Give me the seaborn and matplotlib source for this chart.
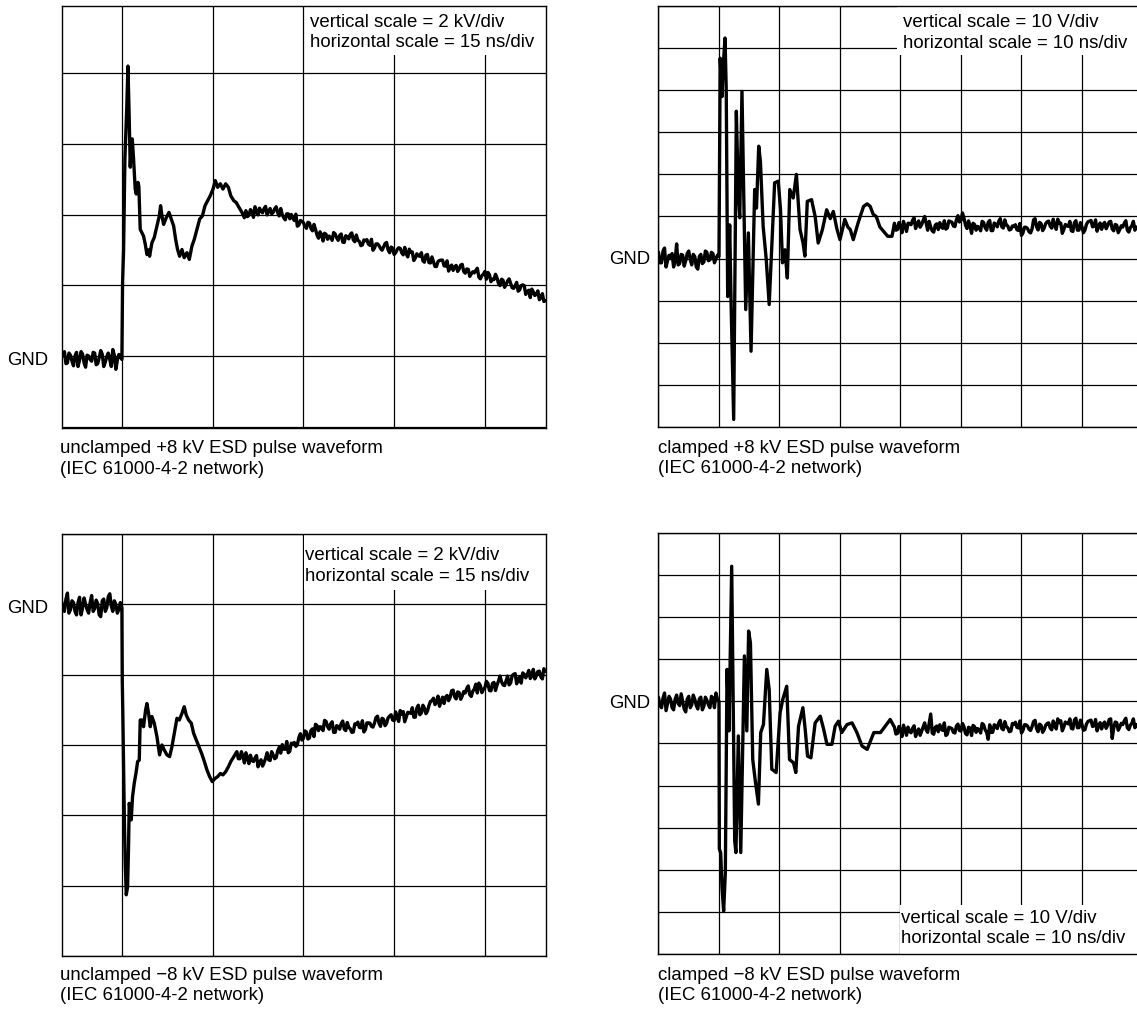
import numpy as np
import matplotlib
matplotlib.use("Agg")
import matplotlib.pyplot as plt
from matplotlib.ticker import MultipleLocator
from matplotlib.patches import Rectangle
import seaborn as sns

# ---------------- data (t in ns, v in kV or V) ----------------
# Baseline/tail samples are on a 0.5 ns grid, "mid" samples on the
# interleaved grid (+0.25 ns); the pulse is given as explicit (t, v) pairs.
STEP = 0.5
HALF = 0.25

# A: unclamped +8 kV (15 ns/div, 2 kV/div)
a_pre_start = -10.0
a_pre_v = [-0.05, 0.12, -0.2, 0.02, -0.28, 0.1, -0.12, 0.05, -0.32, 0.0,
           -0.15, 0.08, -0.22, 0.15, -0.3, -0.02, -0.1, 0.18, -0.38, 0.04]
a_pre_mid_v = [0.05, -0.22, 0.08, -0.15, 0.0, -0.3, 0.12, -0.2, 0.02, -0.1,
               0.1, -0.25, -0.05, 0.05, -0.18, 0.08, -0.3, 0.02, -0.12, -0.02]
a_pulse_t = [0.0, 0.11, 0.28, 0.5, 0.8, 1.0, 1.2, 1.38, 1.54, 1.71, 1.93, 2.2, 2.37, 2.65, 2.8,
             3.03, 3.3, 3.58, 3.86, 4.14, 4.41, 4.58, 4.96, 5.35, 5.79, 6.18, 6.4, 6.62, 6.9,
             7.33, 7.78, 8.16, 8.55, 8.88, 9.2, 9.54, 9.93, 10.3, 10.75, 11.14, 11.58, 11.97,
             12.4, 12.85, 13.3, 13.74, 14.17, 14.6, 15.06, 15.44, 15.83, 16.27, 16.7, 17.15,
             17.6, 18.0, 18.5, 18.9, 19.36, 19.85, 20.24]
a_pulse_v = [-0.1, 2.07, 3.0, 5.6, 7.0, 8.2, 6.8, 5.34, 5.95, 6.14, 5.57, 4.72, 4.58, 4.91, 4.81,
             3.58, 3.49, 3.39, 3.16, 2.87, 3.0, 2.82, 3.2, 3.35, 3.68, 3.96, 4.25, 3.96, 3.72,
             3.91, 4.06, 3.87, 3.68, 3.3, 3.01, 2.82, 3.01, 2.78, 2.92, 2.73, 3.11, 3.3,
             3.58, 3.87, 3.96, 4.25, 4.39, 4.53, 4.72, 4.96, 4.77, 4.87, 4.72, 4.87,
             4.77, 4.53, 4.39, 4.34, 4.2, 4.06, 3.91]
a_tail_start = 20.5
a_tail_v = [4.11, 3.98, 4.09, 4.22, 3.99, 4.09, 4.17, 3.99, 4.17, 4.06,
            4.22, 3.96, 4.0, 3.85, 4.02, 4.0, 3.83, 3.67, 3.83, 3.77,
            3.61, 3.76, 3.54, 3.58, 3.33, 3.43, 3.47, 3.3, 3.35, 3.49,
            3.34, 3.41, 3.22, 3.4, 3.31, 3.48, 3.23, 3.27, 3.12, 3.28,
            3.29, 3.13, 2.99, 3.17, 3.12, 2.99, 3.18, 3.0, 3.08, 2.87,
            3.01, 3.04, 2.86, 2.89, 3.02, 2.94, 2.77, 2.83, 2.92, 2.65,
            2.87, 2.63, 2.67, 2.53, 2.7, 2.71, 2.54, 2.4, 2.57, 2.52,
            2.39, 2.57, 2.39, 2.46, 2.25, 2.38, 2.42, 2.23, 2.27, 2.39,
            2.36, 2.1, 2.16, 2.21, 1.99, 2.14, 2.02, 2.18, 1.93, 1.98,
            1.83, 1.99, 1.99, 1.81, 1.65, 1.81, 1.74, 1.59, 1.76, 1.56]
a_tail_mid_v = [3.94, 4.14, 3.92, 4.1, 4.18, 4.05, 4.23, 4.09, 4.02, 4.16,
                4.05, 4.17, 3.91, 4.02, 3.88, 3.9, 4.01, 3.7, 3.81, 3.67,
                3.78, 3.61, 3.72, 3.42, 3.51, 3.25, 3.44, 3.39, 3.27, 3.45,
                3.27, 3.45, 3.21, 3.37, 3.44, 3.28, 3.42, 3.24, 3.14, 3.26,
                3.16, 3.3, 3.05, 3.17, 3.04, 3.08, 3.21, 2.92, 3.05, 2.92,
                3.06, 2.92, 3.07, 2.8, 2.93, 2.7, 2.89, 2.82, 2.69, 2.85,
                2.64, 2.8, 2.53, 2.67, 2.71, 2.55, 2.69, 2.52, 2.42, 2.56,
                2.46, 2.59, 2.34, 2.45, 2.32, 2.35, 2.48, 2.18, 2.31, 2.17,
                2.3, 2.17, 2.31, 2.05, 2.17, 1.94, 2.12, 2.05, 1.91, 2.08,
                1.87, 2.01, 1.74, 1.86, 1.89, 1.71, 1.84, 1.65, 1.54]

# B: clamped +8 kV (10 ns/div, 10 V/div)
b_pre_start = -10.0
b_pre_v = [1.5, -1.0, 2.5, -0.5, 0.0, -2.0, 3.5, -1.2, 0.8, -0.5,
           1.8, -1.5, 0.5, -2.5, 1.0, -0.8, 1.5, -0.3, 1.2, 0.0]
b_pre_mid_v = [-1.0, 1.8, -2.0, 0.8, 1.2, -0.5, -1.5, 1.0, -1.8, 1.2,
               -0.2, 1.0, -2.0, 0.5, -1.2, 1.8, -0.5, 1.5, -1.0, 0.8]
b_pulse_t = [0.0, 0.2, 0.5, 0.66, 1.0, 1.2, 1.44, 1.77, 2.0, 2.43, 2.87, 3.2, 3.43, 3.8, 4.42,
             4.86, 5.3, 5.9, 6.2, 6.57, 6.85, 7.3, 7.8, 8.3, 9.2, 9.8, 10.17, 10.5, 10.9, 11.3,
             11.7, 12.27, 12.8, 13.4, 13.9, 14.2, 14.6, 15.3, 15.9, 16.4, 17.1, 17.8, 18.4,
             18.9, 19.5, 20.0, 20.8, 21.3, 21.7, 22.2, 23.0, 23.9, 24.5, 25.0, 25.5, 26.0,
             26.6, 27.2, 27.9, 28.6]
b_pulse_v = [0.5, 47.6, 38.5, 45.0, 52.4, 40.0, -9.0, 8.0, -10.5, -38.2, 35.0, 15.0, 9.7, 39.7, -12.1,
             6.1, -22.0, 16.4, 12.0, 26.7, 23.1, 7.7, 0.0, -10.9, 18.0, 18.4, 11.6, -1.0, 2.1, -4.6,
             16.4, 14.4, 20.0, 6.9, 3.7, 0.6, 13.6, 14.0, 10.0, 3.7, 6.9, 11.6, 9.5,
             11.2, 7.0, 4.5, 9.3, 7.5, 6.9, 4.5, 8.5, 12.4, 13.0, 12.4, 10.5, 10.0,
             7.5, 6.5, 5.3, 5.3]
b_tail_start = 29.0
b_tail_v = [8.4, 6.9, 7.8, 8.85, 6.45, 8.35, 9.1, 7.15, 8.95, 8.05,
            10.0, 6.75, 7.5, 6.3, 8.25, 8.55, 7.2, 7.0, 8.95, 8.65,
            7.6, 10.2, 9.05, 9.6, 7.15, 7.8, 8.4, 6.75, 7.35, 8.85,
            7.35, 8.6, 6.65, 8.45, 7.55, 9.5, 7.25, 8.0, 6.8, 7.75,
            8.05, 6.7, 5.5, 7.45, 7.15, 6.1, 9.2, 7.55, 8.6, 6.65,
            8.3, 8.9, 7.25, 7.85, 9.35, 8.4, 6.9, 7.8, 8.85, 6.45,
            9.0, 6.75, 7.5, 6.8, 8.75, 9.05, 7.7, 6.5, 8.45, 8.15,
            7.1, 8.7, 7.05, 8.1, 6.15, 7.8, 8.4, 6.75, 7.35, 8.85,
            7.5]
b_tail_mid_v = [6.75, 8.55, 6.15, 7.65, 8.4, 8.05, 9.7, 8.2, 7.45, 9.1,
                8.35, 8.85, 6.6, 7.95, 6.9, 7.5, 9.0, 7.3, 8.8, 7.75,
                9.25, 8.7, 10.85, 7.95, 8.95, 6.0, 8.1, 7.65, 6.6, 8.55,
                6.75, 9.05, 6.65, 8.15, 8.9, 7.55, 9.2, 7.7, 6.95, 7.6,
                6.85, 8.35, 6.1, 7.45, 6.4, 7.0, 9.5, 6.8, 8.3, 7.25,
                8.75, 7.7, 9.35, 6.95, 8.45, 6.0, 8.1, 7.65, 6.6, 8.55,
                6.75, 8.55, 6.15, 8.15, 8.9, 7.55, 9.2, 7.7, 6.95, 8.6,
                7.85, 8.85, 6.6, 7.95, 6.9, 7.5, 9.0, 6.3, 7.8, 6.75]

# C: unclamped -8 kV (15 ns/div, 2 kV/div)
c_pre_start = -10.0
c_pre_v = [0.1, -0.2, 0.32, -0.15, 0.05, -0.3, 0.2, -0.1, 0.0, -0.25,
           0.25, -0.12, 0.02, -0.35, 0.15, -0.1, 0.3, -0.2, 0.0, -0.15]
c_pre_mid_v = [-0.1, 0.15, -0.25, 0.1, -0.2, 0.05, -0.3, 0.18, -0.15, 0.05,
               -0.2, 0.12, -0.3, 0.1, -0.2, 0.22, -0.05, 0.1, -0.25, 0.05]
c_pulse_t = [0.0, 0.06, 0.17, 0.39, 0.55, 0.72, 0.94, 1.1, 1.21, 1.38, 1.54, 1.76, 2.04, 2.32, 2.6,
             2.87, 3.03, 3.36, 3.58, 3.92, 4.14, 4.41, 4.69, 4.96, 5.35, 5.79, 6.23, 6.62, 7.0,
             7.44, 7.89, 8.27, 8.66, 9.1, 9.49, 9.93, 10.3, 10.64, 11.03, 11.47, 11.86, 12.3,
             12.74, 13.18, 13.63, 14.06, 14.5, 14.94, 15.39, 15.83, 16.27, 16.7, 17.15, 17.6,
             18.0, 18.5]
c_pulse_v = [-0.1, -2.15, -3.29, -5.94, -7.36, -8.26, -8.03, -6.89, -5.66, -5.85, -6.13, -5.47, -5.09,
             -4.81, -4.47, -4.43, -3.29, -3.29, -3.48, -3.0, -2.82, -3.1, -3.48, -3.19, -3.38, -3.76,
             -4.28, -4.0, -4.14, -4.28, -4.33, -4.05, -3.67, -3.24, -3.29, -3.1, -2.91, -3.15, -3.29,
             -3.38, -3.67, -3.86, -4.05, -4.24, -4.47, -4.71, -4.9, -5.04, -4.95, -4.9, -4.81,
             -4.85, -4.76, -4.62, -4.47, -4.33]
c_tail_start = 19.0
c_tail_v = [-4.19, -4.39, -4.31, -4.22, -4.53, -4.44, -4.37, -4.62, -4.42, -4.5,
            -4.22, -4.44, -4.28, -4.36, -4.07, -3.99, -4.12, -4.22, -3.95, -3.93,
            -3.99, -3.68, -3.81, -3.63, -3.8, -3.54, -3.41, -3.59, -3.5, -3.3,
            -3.48, -3.4, -3.64, -3.45, -3.55, -3.32, -3.59, -3.5, -3.64, -3.4,
            -3.35, -3.51, -3.63, -3.37, -3.38, -3.49, -3.22, -3.38, -3.24, -3.45,
            -3.23, -3.14, -3.31, -3.22, -3.02, -3.05, -3.21, -3.08, -2.94, -3.21,
            -2.87, -3.09, -2.95, -3.04, -2.76, -2.67, -2.79, -2.9, -2.64, -2.64,
            -2.74, -2.46, -2.63, -2.49, -2.7, -2.48, -2.39, -2.57, -2.47, -2.27,
            -2.24, -2.51, -2.37, -2.25, -2.46, -2.22, -2.3, -2.04, -2.29, -2.17,
            -2.29, -2.03, -1.97, -2.12, -2.24, -1.99, -2.0, -2.11, -1.85, -2.03,
            -1.9, -2.12, -1.91]
c_tail_mid_v = [-4.39, -4.19, -4.51, -4.36, -4.29, -4.47, -4.3, -4.5, -4.6, -4.38,
                -4.42, -4.19, -4.39, -4.17, -4.23, -4.12, -3.9, -4.18, -3.96, -4.04,
                -3.79, -3.86, -3.6, -3.83, -3.59, -3.76, -3.45, -3.48, -3.59, -3.33,
                -3.55, -3.34, -3.64, -3.48, -3.39, -3.55, -3.36, -3.54, -3.63, -3.42,
                -3.5, -3.31, -3.56, -3.37, -3.47, -3.38, -3.18, -3.47, -3.27, -3.38,
                -3.18, -3.29, -3.06, -3.33, -3.13, -3.34, -3.07, -3.1, -3.21, -2.95,
                -3.14, -2.87, -3.11, -2.88, -2.74, -2.85, -2.61, -2.76, -2.82, -2.59,
                -2.65, -2.44, -2.69, -2.51, -2.61, -2.52, -2.32, -2.62, -2.41, -2.52,
                -2.31, -2.42, -2.19, -2.45, -2.25, -2.45, -2.18, -2.2, -2.31, -2.04,
                -2.24, -1.99, -2.26, -2.06, -1.95, -2.09, -1.88, -2.04, -2.12, -1.91,
                -2.06, -1.83]

# D: clamped -8 kV (10 ns/div, 10 V/div)
d_pre_start = -10.0
d_pre_v = [1.0, -1.5, 2.0, -0.5, 0.5, -2.0, 1.5, -1.0, 0.0, -2.5,
           1.2, -0.8, 0.5, -1.8, 1.0, -1.2, 0.3, -1.5, 0.8, 2.0]
d_pre_mid_v = [-1.0, 0.8, -2.2, 1.2, -1.5, 0.5, -0.5, 1.8, -1.8, 0.5,
               -1.5, 1.5, -1.0, 0.6, -2.0, 1.0, -0.8, 1.2, -1.5, 0.5]
d_pulse_t = [0.0, 0.06, 0.28, 0.5, 0.77, 1.05, 1.33, 1.66, 2.1, 2.6, 2.8, 3.2, 3.6, 4.2, 4.6,
             4.9, 5.2, 5.58, 5.97, 6.52, 6.9, 7.35, 7.9, 8.3, 8.73, 9.45, 10.1, 10.55, 11.2,
             11.66, 12.32, 12.7, 13.15, 13.87, 14.25, 14.64, 15.2, 15.9, 16.74, 17.3, 17.85,
             18.67, 19.2, 19.75, 20.3, 21.16, 22.0, 22.8, 23.65, 24.5, 25.6, 26.7, 28.3]
d_pulse_v = [0.0, -35.0, -36.0, -44.2, -49.8, -40.7, 7.6, -7.0, 32.1, -33.1, -35.9, -8.2, -35.9, 10.8,
             -7.0, 16.7, 13.9, -13.8, -18.5, -24.4, -7.4, -5.5, 7.6, 2.8, -16.1, -16.9, -2.7, 0.5,
             3.6, -13.8, -14.6, -16.9, -5.9, -1.5, -6.6, -13.0, -13.4, -5.1, -3.5, -6.6, -10.2,
             -10.2, -5.9, -4.7, -7.4, -5.5, -5.1, -7.4, -10.6, -11.4, -7.4, -7.4, -4.3]
d_tail_start = 29.0
d_tail_v = [-6.1, -7.6, -6.7, -5.65, -8.05, -7.15, -6.4, -8.35, -6.55, -7.05,
            -5.1, -7.35, -3.0, -7.8, -5.85, -5.55, -6.9, -8.1, -6.15, -6.45,
            -7.5, -5.4, -7.05, -6.0, -7.95, -6.3, -5.7, -7.35, -6.75, -5.25,
            -6.75, -9.0, -7.35, -5.55, -6.45, -4.5, -6.75, -6.0, -7.2, -5.25,
            -4.95, -6.3, -7.5, -5.55, -5.85, -6.9, -4.8, -6.45, -5.4, -7.35,
            -5.7, -5.1, -6.75, -5.65, -4.15, -4.6, -6.1, -5.2, -4.15, -6.55,
            -4.0, -6.25, -5.5, -6.7, -4.75, -4.45, -5.8, -7.0, -5.05, -5.35,
            -6.4, -4.3, -8.8, -4.9, -6.85, -5.2, -4.6, -6.25, -5.65, -4.15,
            -5.5]
d_tail_mid_v = [-7.75, -5.95, -8.35, -6.85, -6.1, -7.45, -5.8, -7.3, -8.05, -6.0,
                -6.75, -5.25, -7.5, -6.15, -7.2, -6.6, -5.1, -7.8, -6.3, -7.35,
                -5.85, -6.9, -5.25, -7.65, -6.15, -8.1, -6.0, -6.45, -7.5, -5.55,
                -7.35, -5.55, -7.35, -5.85, -5.1, -6.45, -4.8, -6.3, -7.05, -5.4,
                -6.15, -4.65, -6.9, -5.55, -6.6, -6.0, -4.5, -7.2, -5.7, -6.75,
                -5.25, -6.3, -4.65, -6.55, -5.05, -7.0, -4.9, -5.35, -6.4, -4.45,
                -6.25, -4.45, -6.85, -5.35, -4.6, -5.95, -4.3, -5.8, -6.55, -4.9,
                -5.65, -4.15, -6.4, -5.05, -6.1, -5.5, -4.0, -6.7, -5.2, -6.25]

captions = ["unclamped +8 kV ESD pulse waveform\n(IEC 61000-4-2 network)",
            "clamped +8 kV ESD pulse waveform\n(IEC 61000-4-2 network)",
            "unclamped \u22128 kV ESD pulse waveform\n(IEC 61000-4-2 network)",
            "clamped \u22128 kV ESD pulse waveform\n(IEC 61000-4-2 network)"]
scale_a = "vertical scale = 2 kV/div\nhorizontal scale = 15 ns/div"
scale_b = "vertical scale = 10 V/div\nhorizontal scale = 10 ns/div"
gnd_label = "GND"


def build(pre_start, pre_v, pre_mid_v, pulse_t, pulse_v, tail_start, tail_v, tail_mid_v):
    pre_t = pre_start + STEP * np.arange(len(pre_v))
    pre_mid_t = pre_start + HALF + STEP * np.arange(len(pre_mid_v))
    tail_t = tail_start + STEP * np.arange(len(tail_v))
    tail_mid_t = tail_start + HALF + STEP * np.arange(len(tail_mid_v))
    t = np.concatenate([pre_t, pre_mid_t, pulse_t, tail_t, tail_mid_t])
    v = np.concatenate([pre_v, pre_mid_v, pulse_v, tail_v, tail_mid_v])
    order = np.argsort(t, kind="stable")
    return t[order], v[order]


# ---------------- style ----------------
sns.set_theme(style="white")
plt.rcParams["font.family"] = ["Liberation Sans", "DejaVu Sans"]
FS = 13.4
LS = 1.3

W, H = 1137, 1013
fig = plt.figure(figsize=(W / 100, H / 100), dpi=100)
fig.patch.set_facecolor("white")

axA = fig.add_axes([62 / W, 1 - 428 / H, 484 / W, 422 / H])
axB = fig.add_axes([658 / W, 1 - 427 / H, 479 / W, 421 / H])
axC = fig.add_axes([62 / W, 1 - 956 / H, 484 / W, 422 / H])
axD = fig.add_axes([658 / W, 1 - 954 / H, 479 / W, 421 / H])


def setup(ax, xlim, ylim, xstep, ystep, right=True):
    ax.set_xlim(xlim)
    ax.set_ylim(ylim)
    ax.xaxis.set_major_locator(MultipleLocator(xstep))
    ax.yaxis.set_major_locator(MultipleLocator(ystep))
    ax.tick_params(length=0, labelbottom=False, labelleft=False)
    ax.set_axisbelow(True)
    ax.grid(True, color="black", lw=0.9)
    ax.set_facecolor("white")
    for s in ax.spines.values():
        s.set_color("black")
        s.set_linewidth(1.0)
        s.set_visible(True)
    if not right:
        ax.spines["right"].set_visible(False)
    ax.set_xlabel("")
    ax.set_ylabel("")


panels = [
    (axA, build(a_pre_start, a_pre_v, a_pre_mid_v, a_pulse_t, a_pulse_v,
                a_tail_start, a_tail_v, a_tail_mid_v),
     (-9.9, 70.1), (-2.04, 9.9), 15, 2, True),
    (axB, build(b_pre_start, b_pre_v, b_pre_mid_v, b_pulse_t, b_pulse_v,
                b_tail_start, b_tail_v, b_tail_mid_v),
     (-10.08, 69.1), (-40, 60), 10, 10, False),
    (axC, build(c_pre_start, c_pre_v, c_pre_mid_v, c_pulse_t, c_pulse_v,
                c_tail_start, c_tail_v, c_tail_mid_v),
     (-9.9, 70.1), (-10, 2), 15, 2, True),
    (axD, build(d_pre_start, d_pre_v, d_pre_mid_v, d_pulse_t, d_pulse_v,
                d_tail_start, d_tail_v, d_tail_mid_v),
     (-10.08, 69.1), (-60, 40), 10, 10, False),
]

for ax, (t, v), xl, yl, xs, ys, rt in panels:
    sns.lineplot(x=t, y=v, ax=ax, color="black", lw=2.4, sort=False, estimator=None,
                 zorder=2)
    setup(ax, xl, yl, xs, ys, rt)


def scale_box(ax, rect, txt, tx, ty, va):
    ax.add_patch(Rectangle((rect[0], rect[1]), rect[2], rect[3], transform=ax.transAxes,
                           facecolor="white", edgecolor="none", zorder=1))
    ax.text(tx, ty, txt, transform=ax.transAxes, ha="left", va=va, fontsize=FS,
            linespacing=LS, color="black", zorder=4)


scale_box(axA, (0.506, 0.884, 0.494, 0.116), scale_a, 0.512, 0.982, "top")
scale_box(axB, (0.499, 0.884, 0.501, 0.116), scale_b, 0.511, 0.980, "top")
scale_box(axC, (0.50, 0.867, 0.50, 0.133), scale_a, 0.503, 0.970, "top")
scale_box(axD, (0.505, 0.0, 0.495, 0.116), scale_b, 0.507, 0.1057, "top")

# GND labels
for ax, xf, dy in [(axA, -0.028, -3), (axB, -0.016, -1), (axC, -0.028, -3), (axD, -0.016, -1.5)]:
    ax.annotate(gnd_label, xy=(xf, 0), xycoords=("axes fraction", "data"),
                xytext=(0, dy), textcoords="offset points", ha="right", va="center",
                fontsize=FS, color="black", annotation_clip=False)

# captions
for ax, cap, xf, yf in [(axA, captions[0], -0.004, -0.0284), (axB, captions[1], 0.0, -0.0297),
                        (axC, captions[2], -0.004, -0.025), (axD, captions[3], 0.0, -0.0297)]:
    ax.text(xf, yf, cap, transform=ax.transAxes, ha="left", va="top", fontsize=FS,
            linespacing=LS, color="black", clip_on=False)

fig.savefig("out.png", dpi=100, facecolor="white")
